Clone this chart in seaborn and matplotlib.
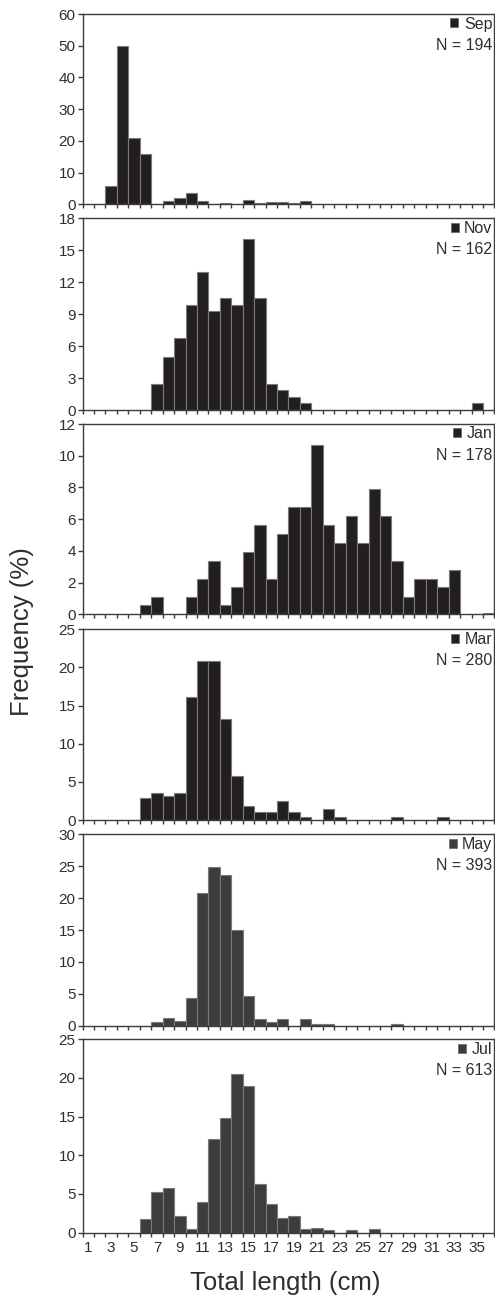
import numpy as np
import pandas as pd
import matplotlib
matplotlib.use("Agg")
import matplotlib.pyplot as plt
import seaborn as sns
from matplotlib.patches import Patch

# ---------------- data ----------------
length_cm = list(range(1, 37))
months = ["Sep", "Nov", "Jan", "Mar", "May", "Jul"]
sample_n = [194, 162, 178, 280, 393, 613]
y_max = [60, 18, 12, 25, 30, 25]
y_step = [10, 3, 2, 5, 5, 5]
x_tick_labels = [1, 3, 5, 7, 9, 11, 13, 15, 17, 19, 21, 23, 25, 27, 29, 31, 33, 35]

sep = [0, 0, 5.8, 50.0, 21.0, 15.8, 0, 1.0, 1.9, 3.5, 1.0, 0, 0.5, 0, 1.2, 0.5, 0.8, 0.6,
       0.3, 0.9, 0, 0, 0, 0, 0, 0, 0, 0, 0, 0, 0, 0, 0, 0, 0, 0]
nov = [0, 0, 0, 0, 0, 0, 2.47, 4.94, 6.79, 9.88, 12.96, 9.26, 10.49, 9.88, 16.05, 10.49, 2.47, 1.85,
       1.23, 0.62, 0, 0, 0, 0, 0, 0, 0, 0, 0, 0, 0, 0, 0, 0, 0.62, 0]
jan = [0, 0, 0, 0, 0, 0.56, 1.12, 0, 0, 1.12, 2.25, 3.37, 0.56, 1.69, 3.93, 5.62, 2.25, 5.06,
       6.74, 6.74, 10.67, 5.62, 4.49, 6.18, 4.49, 7.87, 6.18, 3.37, 1.12, 2.25, 2.25, 1.69, 2.81, 0, 0, 0.1]
mar = [0, 0, 0, 0, 0, 2.86, 3.57, 3.21, 3.57, 16.07, 20.9, 20.9, 13.21, 5.71, 1.79, 1.07, 1.07, 2.5,
       1.07, 0.36, 0, 1.43, 0.36, 0, 0, 0, 0, 0.36, 0, 0, 0, 0.36, 0, 0, 0, 0]
may = [0, 0, 0, 0, 0, 0, 0.6, 1.27, 0.8, 4.33, 20.87, 24.94, 23.66, 15.01, 4.58, 1.02, 0.6, 1.02,
       0, 1.02, 0.25, 0.25, 0, 0, 0, 0, 0, 0.25, 0, 0, 0, 0, 0, 0, 0, 0]
jul = [0, 0, 0, 0, 0, 1.73, 5.24, 5.8, 2.17, 0.43, 3.94, 12.1, 14.8, 20.45, 18.9, 6.3, 3.68, 1.82,
       2.17, 0.43, 0.52, 0.26, 0, 0.26, 0, 0.43, 0, 0, 0, 0, 0, 0, 0, 0, 0, 0]
series = [sep, nov, jan, mar, may, jul]

# ---------------- style ----------------
sns.set_theme(style="white")
plt.rcParams["font.family"] = ["Liberation Sans", "DejaVu Sans"]
TEXT = "#2e2e2e"
SPINE = "#3c3c3c"
fills = ["#231f20", "#231f20", "#231f20", "#231f20", "#3d3d3d", "#3d3d3d"]
EDGE = "#7a7a7a"
TICK_FS = 11
LEG_FS = 11.5

W, H = 495, 1298
fig = plt.figure(figsize=(W / 100, H / 100), dpi=100)
fig.patch.set_facecolor("white")

panel_px = [(14, 204.3), (218.3, 410), (424, 614.3), (629.3, 820), (834.3, 1025.7), (1039.3, 1232.5)]
left_px, right_px = 82.6, 494.4
px_per_cm = 11.52
x_right = 0.5 + (right_px - left_px) / px_per_cm

for i, (m, n, vals) in enumerate(zip(months, sample_n, series)):
    top, bot = panel_px[i]
    ax = fig.add_axes([left_px / W, 1 - bot / H, (right_px - left_px) / W, (bot - top) / H])
    df = pd.DataFrame({"length": length_cm, "pct": vals})
    df = df[df["pct"] > 0]
    sns.barplot(data=df, x="length", y="pct", native_scale=True, width=1,
                color=fills[i], edgecolor=EDGE, linewidth=0.8, saturation=1,
                errorbar=None, ax=ax)
    ax.set_xlim(0.5, x_right)
    ax.set_ylim(0, y_max[i])
    yt = np.arange(0, y_max[i] + 0.01, y_step[i])
    ax.set_yticks(yt)
    ax.set_yticklabels([f"{v:g}" for v in yt])
    ax.set_xticks(np.arange(0.5, 36.6, 1))
    ax.set_xticklabels([])
    ax.tick_params(axis="x", which="major", direction="out", length=3.2, width=1.0,
                   color=SPINE, bottom=True)
    ax.tick_params(axis="y", direction="out", length=3.5, width=1.0, color=SPINE,
                   labelsize=TICK_FS, labelcolor=TEXT, pad=1.5, left=True)
    if i == len(months) - 1:
        ax.set_xticks(x_tick_labels, labels=[str(v) for v in x_tick_labels], minor=True)
        ax.tick_params(axis="x", which="minor", length=0, labelsize=TICK_FS,
                       labelcolor=TEXT, pad=6.0)
    ax.set_xlabel("")
    ax.set_ylabel("")
    for s in ax.spines.values():
        s.set_visible(True)
        s.set_color(SPINE)
        s.set_linewidth(1.0)
    ax.set_facecolor("white")

    ah = bot - top
    aw = right_px - left_px
    leg = ax.legend(handles=[Patch(facecolor=fills[i], edgecolor="#666666", linewidth=0.5)],
                    labels=[m], loc="upper right",
                    bbox_to_anchor=(1 - 2.0 / aw, 1 - 2.5 / ah),
                    frameon=False, fontsize=LEG_FS, handlelength=0.5, handleheight=0.5,
                    handletextpad=0.35, borderpad=0, borderaxespad=0)
    for t in leg.get_texts():
        t.set_color(TEXT)
    ax.text(1 - 2.5 / aw, 1 - 36.0 / ah, f"N = {n}", transform=ax.transAxes,
            ha="right", va="baseline", fontsize=LEG_FS, color=TEXT)

fig.text(22 / W, 1 - 632 / H, "Frequency (%)", rotation=90, ha="center", va="center",
         fontsize=18.5, color=TEXT)
fig.text(285 / W, 1 - 1290 / H, "Total length (cm)", ha="center", va="baseline",
         fontsize=18.5, color=TEXT)

fig.savefig("out.png", dpi=100, facecolor="white")
